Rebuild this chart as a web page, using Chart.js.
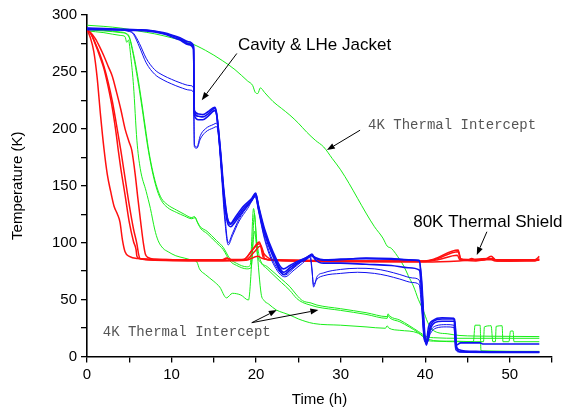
<!DOCTYPE html>
<html><head><meta charset="utf-8">
<script src="https://cdn.jsdelivr.net/npm/chart.js@4"></script>
<style>html,body{margin:0;padding:0;background:#fff}canvas{display:block}</style>
</head><body>
<canvas id="c" width="565" height="414"></canvas>
<script>
// ---- tick labels / axis setup values ----
const xTickLabels = [0, 10, 20, 30, 40, 50];
const yTickLabels = [0, 50, 100, 150, 200, 250, 300];

// ---- 80K thermal shield (red) ----
const red1 = [[0,287],[0.4,280],[0.8,268],[1.2,245],[1.6,212],[2,183],[2.4,160],[2.8,145],[3.2,132],[3.6,125],[3.9,118],[4.2,102],[4.5,92],[5,88],[6,86],[8,85.5],[12,85],[16,85],[16.5,86.5],[17,85.2],[18.6,85.5],[19.5,93],[20.4,100.5],[20.9,86],[22,85],[26,84.5],[30,84],[35,84],[40,84],[41,85.5],[43.9,93.5],[44.2,86],[45,84.5],[45.5,86],[46,84.5],[47,85],[47.8,88],[48.4,84.5],[50,84],[52,84.5],[53,85],[53.5,88]];
const red2 = [[0,287],[0.5,283],[1,274],[1.5,264],[2,253],[2.5,237],[3,218],[3.5,193],[3.7,181],[4,165],[4.5,142],[5,118],[5.5,101],[5.8,94],[5.9,88],[6.2,86],[8,85],[12,84.5],[16,84.5],[16.6,86],[17.2,84.8],[18.8,85],[19.8,92],[20.5,97],[20.8,92],[21.2,88],[21.6,86],[22.5,84.5],[30,83.5],[40,83.5],[41.5,85],[43.8,89],[44.1,85],[46,84],[48,86],[48.5,84],[53,84],[53.5,86]];
const red3 = [[0,287],[0.5,283],[1,275],[1.5,266],[2,255],[2.5,241],[3,224],[3.5,203],[4,181],[4.5,157],[5,133],[5.5,112],[5.9,99],[6.1,90],[6.3,86],[8,84.5],[12,84],[16,84],[18.8,84.5],[20.2,88],[20.8,86],[22,84.5],[30,83.5],[40,83],[44,84],[47.6,86],[48.3,84],[53.5,84.5]];
const red4 = [[0,287],[0.5,284],[1,279],[1.5,272],[2,264],[2.5,255],[3,246],[3.5,232],[4,217],[4.5,200],[5,188],[5.3,181],[5.7,160],[6,140],[6.4,115],[6.7,98],[6.9,90],[7.2,87],[8,85.5],[12,85],[16,84.5],[18.5,85],[19.6,94],[20.4,99],[20.8,93],[21,86],[22,84.5],[30,84],[40,83.8],[41,84.8],[43.9,92],[44.2,85.5],[53.5,85]];

// ---- Cavity & LHe jacket (blue) ----
const blue1 = [[0,288],[2,287.8],[4,287.3],[6,287],[7,286.5],[8,285.5],[9,284],[10,282],[11,279],[12,275],[12.6,272],[12.7,214],[13.2,211],[13.7,210.5],[14.3,213],[15.1,218],[15.3,214],[15.7,185],[16.1,150],[16.5,125],[16.9,116],[17.5,120],[18.5,130],[19.5,138],[19.95,143],[20.3,132],[21,112],[22,92],[23.2,77],[24,80],[25,84],[26,87],[26.5,89],[27,87],[28,85],[30,85.5],[33,86],[36,85.5],[38,84.8],[39.3,84],[39.6,65],[39.9,25],[40.1,12],[40.4,26],[41,32],[42,34],[43.4,33.5],[43.6,12],[44,6],[46,4.5],[50,4],[53.5,4]];
const blue2 = [[0,287],[2,287],[4,286.8],[6,286.5],[7,286],[8,285],[9,283.5],[10,281],[11,278],[12,274],[12.6,270],[12.7,212],[13.2,208],[13.7,208],[14.3,211],[15.1,216],[15.35,212],[15.8,180],[16.2,145],[16.6,122],[17,117],[17.5,122],[18.5,132],[19.5,139],[19.95,143.5],[20.3,131],[21,110],[22,90],[23.3,74],[24,78],[25,83],[26,87],[26.5,88.5],[27,86],[28,84.5],[30,85],[33,86.5],[36,86],[38,85],[39.3,84.5],[39.6,60],[39.9,20],[40.15,10],[40.5,24],[41,31],[42,33],[43.5,33],[43.7,10],[44.2,12],[46.5,12],[46.8,11],[53.5,11]];
const blue3 = [[0,288.5],[2,288],[4,287.5],[6,287],[7,286.8],[8,286],[9,284.5],[10,282.5],[11,280],[12,276.5],[12.6,273],[12.7,216],[13.2,213],[13.7,212.5],[14.3,215],[15.1,219],[15.3,215],[15.8,178],[16.2,140],[16.6,118],[17,114],[17.5,118],[18.5,128],[19.5,137],[19.95,142],[20.3,130],[21,108],[22,88],[23.3,72],[24,76],[25,82],[26,86],[26.6,90],[27,85],[28,82],[30,82],[33,81],[36,80],[38,78],[39.3,76],[39.6,55],[39.9,18],[40.2,12],[40.6,24],[41.2,30],[42,31],[43.5,31],[43.7,8],[44.2,4],[53.5,3.5]];
const blue4 = [[0,288],[3,287.5],[5,286],[5.5,284],[6.2,275],[7,262],[8,252],[9,247],[10,243.5],[11,240.5],[12.2,238],[12.6,236],[12.7,186],[13,184],[13.4,194],[14,200],[15,204],[15.3,205],[15.5,200],[15.9,165],[16.3,125],[16.7,100],[17.2,108],[18,121],[19,132],[19.9,141],[20.3,128],[21,105],[22,84],[23.4,71.6],[24.5,78],[25.5,84],[26.4,89],[26.6,78],[26.8,61],[27.2,70],[28,73.5],[30,76.5],[32,77.5],[34,77],[35.5,75],[37,72],[38.5,69],[39.3,67],[39.6,45],[39.9,15],[40.2,13],[40.6,22],[41.3,27],[42.5,28],[43.4,27.5],[43.6,7],[44,4.5],[53.5,4]];
const blue5 = [[0,287.5],[3,287],[5,285.5],[5.5,283],[6.2,272],[7,258],[8,248],[9,243],[10,239.5],[11,236.5],[12.2,234],[12.6,232],[12.7,184],[13,183],[13.4,191],[14,197],[15,201],[15.3,202],[15.5,197],[15.9,160],[16.3,120],[16.7,98],[17.2,106],[18,119],[19,130],[19.9,140],[20.3,127],[21,103],[22,82],[23.4,70],[24.5,76],[25.5,82],[26.4,87],[26.6,76],[26.8,63],[27.2,68],[28,71],[30,73],[32,74],[34,73],[35.5,71],[37,68],[38.5,65],[39.3,63],[39.6,40],[39.9,14],[40.2,12],[40.6,20],[41.3,25],[42.5,26],[43.4,25.5],[43.6,6],[44,4],[53.5,3.8]];

// ---- 4K thermal intercept (green) ----
const green1 = [[0,291],[2,290],[4,288.5],[6,286],[8,283.5],[10,280],[12,276],[14,269],[16,260],[17.5,252],[19,242],[19.6,238],[19.9,232],[20.2,231],[20.5,236],[21,232],[22,224],[23,218],[24,212],[25,205],[26,197],[27,190],[28,184],[29,174],[30,164],[31,152],[32,139],[33,126],[34,114],[35,104],[35.5,97],[36,95],[37,85],[37.5,79],[38,71],[38.6,62],[39.2,50],[39.8,40],[40.3,30],[40.8,24],[41.5,21],[42.6,20],[44,18.5],[48,17.8],[53.5,17.5]];
const green2 = [[0,286],[2,284.5],[4,282],[4.5,281],[4.7,276],[4.9,278],[5.2,262],[5.5,238],[5.9,190],[6.3,165],[7,145],[7.5,130],[8,112],[8.4,102],[9,95],[9.6,92],[10.5,88.5],[11.5,86.5],[12.5,84.5],[13,83],[13.3,77],[14,72],[15,66],[15.7,61],[16.5,51.5],[17.2,55.5],[18.2,54],[19.1,49.6],[19.5,85],[19.8,125],[20.1,95],[20.6,55],[20.9,49.6],[21.5,46],[22.4,40.8],[23.2,38.5],[24,36.4],[25,33],[26.8,29],[30,27.5],[33,26],[35.3,24.8],[35.5,27],[35.7,25],[37,23],[39.2,20.4],[40.2,14.5],[41,13.5],[43.4,13.5],[45.7,13],[45.9,27.5],[46.5,27.5],[46.6,5],[53.5,4.5]];
const green3 = [[0,287.5],[2,286.5],[4,285],[4.6,284],[5,281],[5.5,266],[6,246],[6.5,222],[7,196],[7.3,181],[7.8,162],[8.3,148],[8.8,139],[9.5,133.5],[10.6,128.6],[11.5,125],[12.4,122],[12.7,123],[13,119],[13.4,114],[14.2,110],[15.3,102],[16.1,96],[16.9,86],[17.7,81.8],[18.9,78.8],[19.3,80],[19.7,130],[20.1,100],[20.5,84.7],[21.3,79],[22,74.5],[23,68],[24,61.3],[24.8,54],[25.5,49],[26.5,47],[27.2,45.2],[30,42],[33,38.5],[35.5,35],[35.6,37.5],[35.8,35.5],[37,32],[39.2,22],[40.2,17.4],[41,16.5],[44,16],[53.5,16]];
const green4 = [[0,287],[2,286],[4,284.5],[4.6,283.5],[5,280],[5.5,264],[6,243],[6.5,219],[7,193],[7.3,179],[7.8,160],[8.3,146],[8.8,137],[9.5,131],[10.6,126.5],[11.5,123.5],[12.4,121],[12.8,122],[13.1,117],[13.5,112],[14.2,108],[15.3,100],[16.1,94],[16.9,84],[17.7,80],[18.9,77],[19.4,78],[19.8,110],[20.2,88],[20.6,82],[21.3,77],[22,72],[23,65],[24,58],[24.8,51],[25.5,47.5],[26.5,45],[27.2,43.5],[30,40.5],[33,37],[35.5,33.5],[35.6,36],[35.8,34],[37,30.5],[39.2,21],[40.2,16],[41,14],[44,13],[46.9,13],[47,26],[47.8,27],[48,13],[48.3,13],[48.4,26.5],[49.1,27],[49.2,13],[49.9,13],[50.1,22.4],[50.4,22.4],[50.5,13],[53.5,13]];

const toXY = arr => arr.map(p => ({x: p[0], y: p[1]}));
const BLUE = '#1010f0', RED = '#ff1010', GREEN = '#19ee19';
const mk = (d, color, w) => ({data: toXY(d), borderColor: color, borderWidth: w, pointRadius: 0, fill: false, cubicInterpolationMode: 'monotone'});

// dataset 0 is drawn on top
const datasets = [
  mk(blue1, BLUE, 1.6), mk(blue2, BLUE, 1.6), mk(blue3, BLUE, 1.6), mk(blue4, BLUE, 1), mk(blue5, BLUE, 1),
  mk(red1, RED, 1.5), mk(red2, RED, 1.5), mk(red3, RED, 1.5), mk(red4, RED, 1.5),
  mk(green1, GREEN, 1), mk(green2, GREEN, 1), mk(green3, GREEN, 1), mk(green4, GREEN, 1)
];

// annotation texts and arrows (in data coordinates)
const notes = [
  {text: 'Cavity & LHe Jacket', x: 17.87, y: 269.5, font: '17px "Liberation Sans", Arial, sans-serif', color: '#000'},
  {text: '4K Thermal Intercept', x: 33.25, y: 200.2, font: '14px "Liberation Mono", "Courier New", monospace', color: '#555'},
  {text: '80K Thermal Shield', x: 38.58, y: 114.1, font: '17px "Liberation Sans", Arial, sans-serif', color: '#000'},
  {text: '4K Thermal Intercept', x: 1.86, y: 18.0, font: '14px "Liberation Mono", "Courier New", monospace', color: '#555'}
];
const arrows = [
  [17.72, 266.2, 13.57, 225.2],
  [32.3, 198.8, 28.37, 181.3],
  [47.3, 109.6, 46.1, 89.1],
  [19.49, 29.7, 22.45, 40.8],
  [19.49, 29.7, 27.37, 40.8]
];

const notePlugin = {
  id: 'notes',
  afterDatasetsDraw(chart) {
    const {ctx} = chart; const xs = chart.scales.x, ys = chart.scales.y;
    ctx.save();
    ctx.strokeStyle = '#000'; ctx.fillStyle = '#000'; ctx.lineWidth = 1;
    arrows.forEach(a => {
      const x0 = xs.getPixelForValue(a[0]), y0 = ys.getPixelForValue(a[1]);
      const x1 = xs.getPixelForValue(a[2]), y1 = ys.getPixelForValue(a[3]);
      const ang = Math.atan2(y1 - y0, x1 - x0), L = 8, W = 3;
      const bx = x1 - L * Math.cos(ang), by = y1 - L * Math.sin(ang);
      ctx.beginPath(); ctx.moveTo(x0, y0); ctx.lineTo(bx, by); ctx.stroke();
      ctx.beginPath(); ctx.moveTo(x1, y1);
      ctx.lineTo(bx + W * Math.sin(ang), by - W * Math.cos(ang));
      ctx.lineTo(bx - W * Math.sin(ang), by + W * Math.cos(ang));
      ctx.closePath(); ctx.fill();
    });
    ctx.textBaseline = 'alphabetic'; ctx.textAlign = 'left';
    notes.forEach(n => {
      ctx.font = n.font; ctx.fillStyle = n.color;
      ctx.fillText(n.text, xs.getPixelForValue(n.x), ys.getPixelForValue(n.y));
    });
    ctx.restore();
  }
};

const tickFont = {family: '"Liberation Sans", Arial, sans-serif', size: 15};
new Chart(document.getElementById('c'), {
  type: 'line',
  data: {datasets},
  options: {
    responsive: false, animation: false, devicePixelRatio: 1,
    layout: {padding: {left: 0, right: 13, top: 15, bottom: 0}},
    plugins: {legend: {display: false}, tooltip: {enabled: false}},
    scales: {
      x: {
        type: 'linear', min: 0, max: 55,
        ticks: {stepSize: 5, color: '#000', font: tickFont, padding: 3, maxRotation: 0,
          callback: v => xTickLabels.includes(v) ? String(v) : ''},
        grid: {drawOnChartArea: false, drawTicks: true, tickLength: 6, color: '#000', lineWidth: 1.3},
        border: {display: true, color: '#000', width: 1.6},
        title: {display: true, text: 'Time (h)', color: '#000', font: tickFont, padding: {top: 0, bottom: 5}},
        afterFit: s => { s.height = 57.5; }
      },
      y: {
        type: 'linear', min: 0, max: 300,
        ticks: {stepSize: 25, color: '#000', font: tickFont, padding: 4,
          callback: v => yTickLabels.includes(v) ? String(v) : ''},
        grid: {drawOnChartArea: false, drawTicks: true, tickLength: 6, color: '#000', lineWidth: 1.3},
        border: {display: true, color: '#000', width: 1.6},
        title: {display: true, text: 'Temperature (K)', color: '#000', font: tickFont, padding: {top: 9, bottom: 0}},
        afterFit: s => { s.width = 87; }
      }
    }
  },
  plugins: [notePlugin]
});
</script>
</body></html>
